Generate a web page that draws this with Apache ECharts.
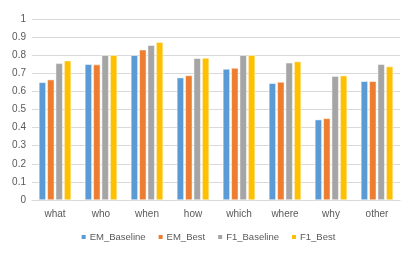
<!DOCTYPE html>
<html><head><meta charset="utf-8">
<script src="https://cdn.jsdelivr.net/npm/echarts@6/dist/echarts.min.js"></script>
<style>html,body{margin:0;padding:0;background:#fff}#c{width:415px;height:260px}</style>
</head><body><div id="c"></div>
<script>
const categories = ['what','who','when','how','which','where','why','other'];
const emBaseline = [0.650,0.750,0.800,0.676,0.724,0.645,0.444,0.656];
const emBest     = [0.665,0.748,0.830,0.688,0.729,0.652,0.451,0.656];
const f1Baseline = [0.755,0.800,0.855,0.783,0.800,0.758,0.684,0.750];
const f1Best     = [0.770,0.800,0.872,0.785,0.800,0.765,0.687,0.737];
const yTicks = [0,0.1,0.2,0.3,0.4,0.5,0.6,0.7,0.8,0.9,1];

const names = ['EM_Baseline','EM_Best','F1_Baseline','F1_Best'];
const colors = ['#5B9BD5','#ED7D31','#A5A5A5','#FFC000'];
const datas = [emBaseline, emBest, f1Baseline, f1Best];
const font = 'Liberation Sans';
const chart = echarts.init(document.getElementById('c'), null, {renderer:'canvas'});
chart.setOption({
  animation:false,
  textStyle:{fontFamily:font},
  grid:{left:32,right:15,top:19,bottom:60,containLabel:false},
  legend:{top:227,left:'center',itemWidth:6,itemHeight:6,itemGap:11,icon:'rect',
    textStyle:{color:'#595959',fontSize:9.5,fontFamily:font,padding:[0,0,0,-2]},data:names},
  xAxis:{type:'category',data:categories,
    axisLine:{lineStyle:{color:'#D9D9D9'}},axisTick:{show:false},
    axisLabel:{color:'#595959',fontSize:10,margin:9,fontFamily:font}},
  yAxis:{type:'value',min:0,max:1,interval:0.1,
    axisLine:{show:false},axisTick:{show:false},
    splitLine:{lineStyle:{color:'#D9D9D9'}},
    axisLabel:{color:'#595959',fontSize:10,margin:6,fontFamily:font,
      formatter:v=>{const t=yTicks.find(x=>Math.abs(x-v)<1e-6);return t===undefined?'':String(t);}}},
  series:names.map((n,i)=>({name:n,type:'bar',data:datas[i],barWidth:7,barGap:'20%',
    itemStyle:{color:colors[i],borderColor:'#fff',borderWidth:0.5}}))
});
</script></body></html>
